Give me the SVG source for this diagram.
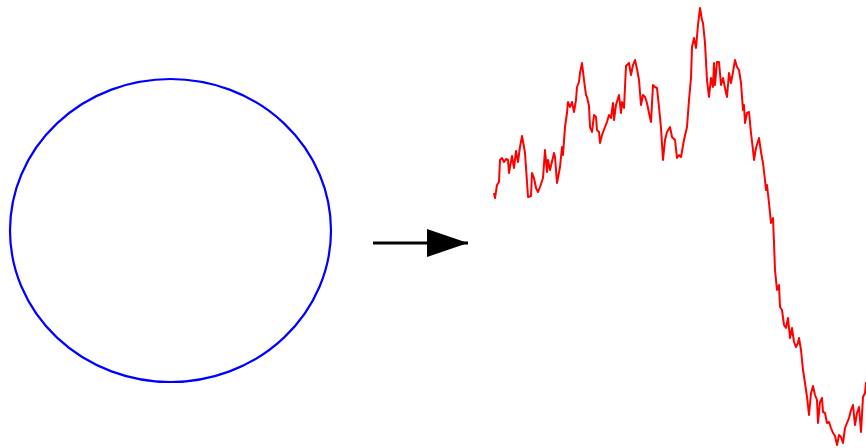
<svg xmlns="http://www.w3.org/2000/svg" width="866" height="448" viewBox="0 0 866 448">
<style>
.circle{fill:none;stroke:#0000ff;stroke-width:2.2}
.curve{fill:none;stroke:#ff0000;stroke-width:2;stroke-linejoin:round}
.conn{stroke:#000;stroke-width:3;fill:none}
</style>
<defs>
<marker id="ah" markerUnits="userSpaceOnUse" markerWidth="42" markerHeight="28" refX="41" refY="14" orient="auto">
<polygon points="0,0 41,14 0,28" fill="#000"/>
</marker>
</defs>
<g id="blue-loop">
<ellipse class="circle" cx="170.5" cy="230.5" rx="160.5" ry="151.5"/>
</g>
<g id="connectors">
<line class="conn" x1="373" y1="243" x2="468" y2="243" marker-end="url(#ah)"/>
</g>
<g id="red-path">
<polyline class="curve" points="494,193 495,198 497,185 499,182 500,160 502,158 504,162 506,159 508,160 509,173 510,167 512,156 514,168 516,151 518,162 520,147 522,136 524,147 525,153 527,182 528,197 531,196 532,173 534,178 536,188 538,192 540,187 543,178 545,150 547,172 548,160 550,170 554,153 555,157 557,183 560,167 562,147 563,155 565,127 567,113 568,102 570,107 572,102 574,112 576,100 577,87 579,82 580,73 582,63 584,80 586,95 587,97 589,106 590,127 592,132 594,115 596,117 597,130 599,132 600,143 602,135 605,127 607,122 609,115 611,118 613,103 614,120 616,105 619,95 621,113 622,102 624,108 626,66 629,63 631,75 633,65 635,60 637,69 639,80 641,105 643,95 645,97 647,103 649,113 651,122 653,85 655,87 657,88 659,107 661,128 663,160 665,140 667,132 670,127 672,137 675,140 677,158 679,155 681,157 684,140 687,127 689,100 691,78 692,47 694,38 696,48 698,25 700,8 702,20 703,23 705,43 707,80 709,97 711,78 713,87 714,63 715,85 717,62 719,62 721,85 723,78 725,88 727,97 729,73 731,83 733,72 735,60 737,67 739,70 741,83 743,110 744,105 745,123 747,113 749,112 751,133 753,150 754,160 756,148 759,138 761,152 763,163 765,180 766,190 767,185 769,203 771,223 773,218 774,243 775,270 777,290 779,285 780,307 782,310 784,325 786,328 788,318 790,338 792,328 794,342 796,347 798,343 799,338 801,350 803,370 805,383 807,397 809,415 811,393 813,386 815,395 817,400 818,423 820,402 822,398 823,412 825,413 827,423 829,422 831,428 833,433 835,436 837,445 839,435 841,437 843,443 845,428 847,423 849,418 851,410 853,405 855,425 857,413 859,407 861,432 863,397 865,393 866,382"/>
</g>
</svg>
